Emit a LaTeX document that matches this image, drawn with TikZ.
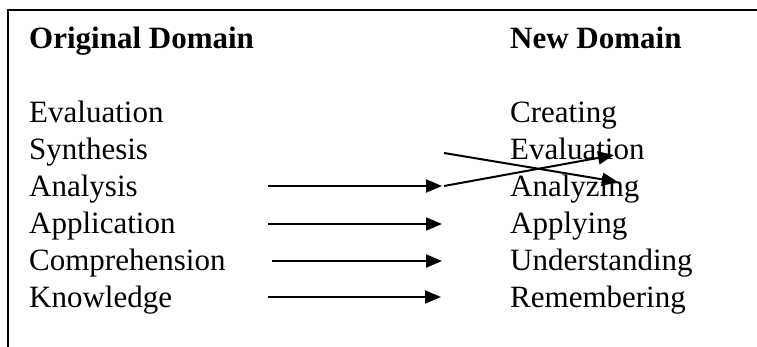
\documentclass[tikz,border=0pt]{standalone}
\usepackage{fontspec}
\setmainfont{Liberation Serif}
\usetikzlibrary{arrows.meta}
\begin{document}
\begin{tikzpicture}[x=1pt,y=-1pt,
  lbl/.style={anchor=base west,inner sep=0pt,font=\fontsize{31}{36}\selectfont},
  hdr/.style={anchor=base west,inner sep=0pt,font=\fontsize{31}{36}\selectfont\bfseries},
  arr/.style={line width=2pt,-{Triangle[length=16pt,width=13pt]}},
  frameline/.style={line width=2pt}]
\useasboundingbox (0,0) rectangle (757,347);
\draw[frameline] (8,347) -- (8,10) -- (757,10);
% headers
\node[hdr] (h1) at (29,49) {Original Domain};
\node[hdr] (h2) at (510,49) {New Domain};
% left column
\node[lbl] (l1) at (29,123) {Evaluation};
\node[lbl] (l2) at (29,160) {Synthesis};
\node[lbl] (l3) at (29,196.6) {Analysis};
\node[lbl] (l4) at (29,233.4) {Application};
\node[lbl] (l5) at (29,270.2) {Comprehension};
\node[lbl] (l6) at (29,307) {Knowledge};
% right column
\node[lbl] (r1) at (510,123) {Creating};
\node[lbl] (r2) at (510,160) {Evaluation};
\node[lbl] (r3) at (510,196.6) {Analyzing};
\node[lbl] (r4) at (510,233.4) {Applying};
\node[lbl] (r5) at (510,270.2) {Understanding};
\node[lbl] (r6) at (510,307) {Remembering};
% arrow end points
\coordinate (a3s) at (268,186);
\coordinate (a3e) at (442,186);
\coordinate (a4s) at (268,224);
\coordinate (a4e) at (442,224);
\coordinate (a5s) at (272,261);
\coordinate (a5e) at (442,261);
\coordinate (a6s) at (268,297);
\coordinate (a6e) at (441,297);
\coordinate (c2s) at (444,153);
\coordinate (c2e) at (618,182);
\coordinate (c3s) at (444,186);
\coordinate (c3e) at (614,155);
\draw[arr] (a3s) -- (a3e);
\draw[arr] (a4s) -- (a4e);
\draw[arr] (a5s) -- (a5e);
\draw[arr] (a6s) -- (a6e);
\draw[arr] (c2s) -- (c2e);
\draw[arr] (c3s) -- (c3e);
\end{tikzpicture}
\end{document}
